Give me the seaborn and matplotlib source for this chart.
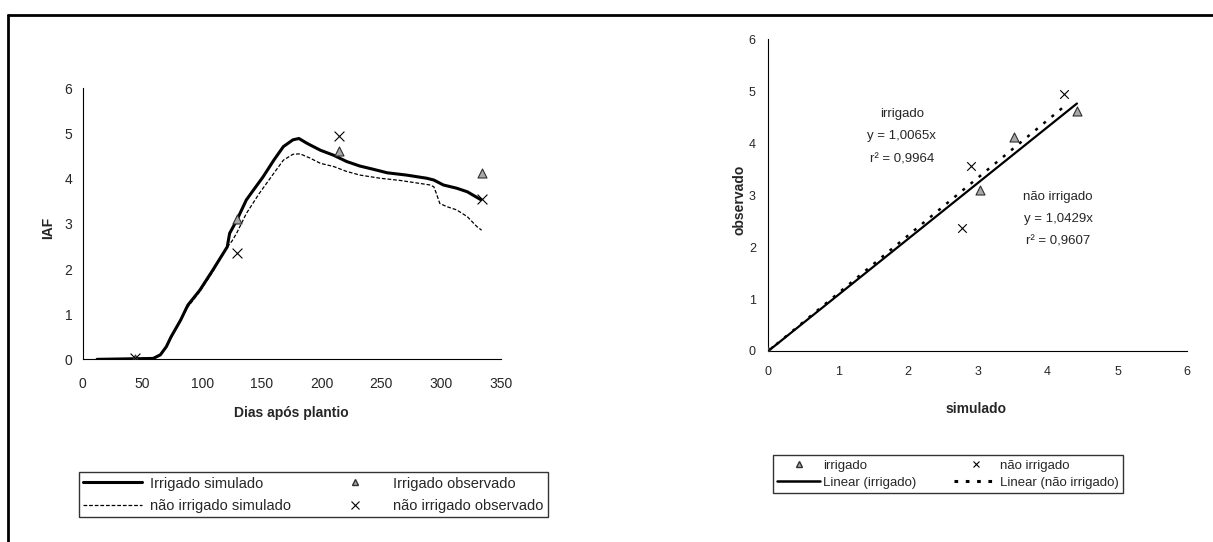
import numpy as np
import pandas as pd
import matplotlib
matplotlib.use('Agg')
import matplotlib.pyplot as plt
import seaborn as sns
from matplotlib.lines import Line2D

# dados
# IAF simulado (dias após plantio)
dias_irr = [12, 59, 65, 70, 74, 82, 88, 98, 109, 121, 123, 129, 137, 143, 151, 160, 168, 176,
            181, 188, 199, 210, 221, 232, 243, 255, 271, 288, 294, 302, 313, 322, 333]
iaf_irr = [0, 0.02, 0.1, 0.28, 0.5, 0.87, 1.2, 1.53, 1.98, 2.49, 2.79, 3.08, 3.53, 3.75, 4.04,
           4.41, 4.71, 4.86, 4.89, 4.78, 4.63, 4.52, 4.38, 4.28, 4.21, 4.13, 4.08, 4.01, 3.97,
           3.86, 3.79, 3.71, 3.54]

dias_nirr = [12, 59, 65, 70, 74, 81, 88, 98, 109, 120, 125, 129, 137, 148, 160, 168, 176, 182,
             190, 199, 210, 221, 232, 249, 266, 291, 294, 296, 299, 305, 313, 322, 330, 334]
iaf_nirr = [0, 0.02, 0.1, 0.27, 0.48, 0.84, 1.16, 1.5, 1.94, 2.45, 2.62, 2.8, 3.23, 3.68, 4.12,
            4.41, 4.54, 4.55, 4.46, 4.34, 4.27, 4.16, 4.08, 4.01, 3.96, 3.86, 3.82, 3.68, 3.45,
            3.38, 3.31, 3.16, 2.94, 2.86]

# IAF observado
dias_obs = [44, 129, 215, 334]
obs_irr = [0.0, 3.1, 4.62, 4.12]
obs_nirr = [0.02, 2.36, 4.94, 3.56]

# simulado x observado
sim_irr = [0.0, 3.03, 4.42, 3.52]
sim_nirr = [0.0, 2.77, 4.23, 2.9]

texto_irr = ['irrigado', 'y = 1,0065x', 'r² = 0,9964']
texto_nirr = ['não irrigado', 'y = 1,0429x', 'r² = 0,9607']

sns.set_style('white')
plt.rcParams['font.family'] = ['Liberation Sans', 'DejaVu Sans']

fig = plt.figure(figsize=(12.13, 5.42), dpi=100)

# moldura (só topo e esquerda)
fig.add_artist(Line2D([8 / 1213, 1], [1 - 15 / 542] * 2, transform=fig.transFigure, color='black', lw=2))
fig.add_artist(Line2D([8 / 1213] * 2, [0, 1 - 15 / 542], transform=fig.transFigure, color='black', lw=2))

# ---- IAF x dias ----
ax1 = fig.add_axes([0.0682, 0.337, 0.3446, 0.5])
sns.lineplot(x=dias_irr, y=iaf_irr, ax=ax1, color='black', lw=2.2, sort=False, estimator=None)
sns.lineplot(x=dias_nirr, y=iaf_nirr, ax=ax1, color='black', lw=0.9, sort=False, estimator=None,
             linestyle=(0, (3, 1.5)))
sns.scatterplot(x=dias_obs, y=obs_irr, ax=ax1, marker='^', s=42, color='#a8a8a8',
                edgecolor='#303030', linewidth=0.8, zorder=5)
sns.scatterplot(x=dias_obs, y=obs_nirr, ax=ax1, marker='x', s=50, color='black',
                linewidth=0.8, zorder=5)
ax1.set_xlim(0, 350)
ax1.set_ylim(0, 6)
ax1.set_xticks(range(0, 351, 50))
ax1.set_yticks(range(0, 7))
ax1.set_xlabel('Dias após plantio', fontsize=10, fontweight='bold')
ax1.set_ylabel('IAF', fontsize=10, fontweight='bold')
ax1.xaxis.set_label_coords(0.5, -0.172)
ax1.yaxis.set_label_coords(-0.066, 0.484)
ax1.tick_params(axis='x', direction='out', length=3.5, width=0.8, pad=9, labelsize=10)
ax1.tick_params(axis='y', direction='out', length=2.5, width=0.8, pad=5, labelsize=10)
sns.despine(ax=ax1)
for s in ['left', 'bottom']:
    ax1.spines[s].set_linewidth(0.8)
    ax1.spines[s].set_color('black')

h1 = [Line2D([], [], color='black', lw=2.2),
      Line2D([], [], color='black', lw=0.9, linestyle=(0, (3, 1.5))),
      Line2D([], [], color='#a8a8a8', marker='^', markeredgecolor='#303030', markersize=5, lw=0),
      Line2D([], [], color='black', marker='x', markersize=6, lw=0, markeredgewidth=0.8)]
l1 = ['Irrigado simulado', 'não irrigado simulado', 'Irrigado observado', 'não irrigado observado']
leg1 = ax1.legend(h1, l1, ncol=2, loc='lower left', mode='expand',
                  bbox_to_anchor=(79 / 1213, 1 - 517 / 542, 469 / 1213, 64 / 542),
                  bbox_transform=fig.transFigure, fontsize=10.5, frameon=True, fancybox=False,
                  handlelength=4.0, handletextpad=0.6, borderaxespad=0, borderpad=0.3,
                  labelspacing=0.55)
leg1.get_frame().set_edgecolor('black')
leg1.get_frame().set_linewidth(1)

# ---- simulado x observado ----
ax2 = fig.add_axes([0.6334, 0.3524, 0.3454, 0.575])
df_irr = pd.DataFrame({'sim': sim_irr, 'obs': obs_irr})
df_nirr = pd.DataFrame({'sim': sim_nirr, 'obs': obs_nirr})

# linhas de tendência pela origem
b_irr = (df_irr.sim * df_irr.obs).sum() / (df_irr.sim ** 2).sum()
b_nirr = (df_nirr.sim * df_nirr.obs).sum() / (df_nirr.sim ** 2).sum()
x_irr = np.array([0, df_irr.sim.max()])
x_nirr = np.array([0, df_nirr.sim.max()])
sns.lineplot(x=x_irr, y=b_irr * x_irr, ax=ax2, color='black', lw=1.6)
sns.lineplot(x=x_nirr, y=b_nirr * x_nirr, ax=ax2, color='black', lw=1.8, linestyle=(0, (1.2, 3)))
sns.scatterplot(data=df_irr, x='sim', y='obs', ax=ax2, marker='^', s=42, color='#a8a8a8',
                edgecolor='#303030', linewidth=0.8, zorder=5)
sns.scatterplot(data=df_nirr, x='sim', y='obs', ax=ax2, marker='x', s=38, color='black',
                linewidth=0.8, zorder=5)
ax2.set_xlim(0, 6)
ax2.set_ylim(0, 6)
ax2.set_xticks(range(0, 7))
ax2.set_yticks(range(0, 7))
ax2.set_xlabel('simulado', fontsize=10, fontweight='bold')
ax2.set_ylabel('observado', fontsize=10, fontweight='bold')
ax2.xaxis.set_label_coords(0.497, -0.164)
ax2.yaxis.set_label_coords(-0.052, 0.484)
ax2.tick_params(axis='both', direction='out', length=3, width=0.8, labelsize=9)
ax2.tick_params(axis='x', pad=8)
ax2.tick_params(axis='y', pad=6)
sns.despine(ax=ax2)
for s in ['left', 'bottom']:
    ax2.spines[s].set_linewidth(0.8)
    ax2.spines[s].set_color('black')

for i, t in enumerate(texto_irr):
    ax2.text(1.91, 4.57 - i * 0.44, t, ha='center', va='center', fontsize=9.5)
for i, t in enumerate(texto_nirr):
    ax2.text(4.15, 2.97 - i * 0.43, t, ha='center', va='center', fontsize=9.5)

h2 = [Line2D([], [], color='#a8a8a8', marker='^', markeredgecolor='#303030', markersize=5, lw=0),
      Line2D([], [], color='black', lw=1.8),
      Line2D([], [], color='black', marker='x', markersize=5, lw=0, markeredgewidth=0.8),
      Line2D([], [], color='black', lw=2.2, linestyle=(0, (1.2, 2.5)))]
l2 = ['irrigado', 'Linear (irrigado)', 'não irrigado', 'Linear (não irrigado)']
leg2 = ax2.legend(h2, l2, ncol=2, loc='lower left', mode='expand',
                  bbox_to_anchor=(773 / 1213, 1 - 493 / 542, 350 / 1213, 51 / 542),
                  bbox_transform=fig.transFigure, fontsize=9.5, frameon=True, fancybox=False,
                  handlelength=3.3, handletextpad=0.2, borderaxespad=0, borderpad=0.3,
                  labelspacing=0.4)
leg2.get_frame().set_edgecolor('black')
leg2.get_frame().set_linewidth(1)

plt.savefig('out.png', dpi=100)
